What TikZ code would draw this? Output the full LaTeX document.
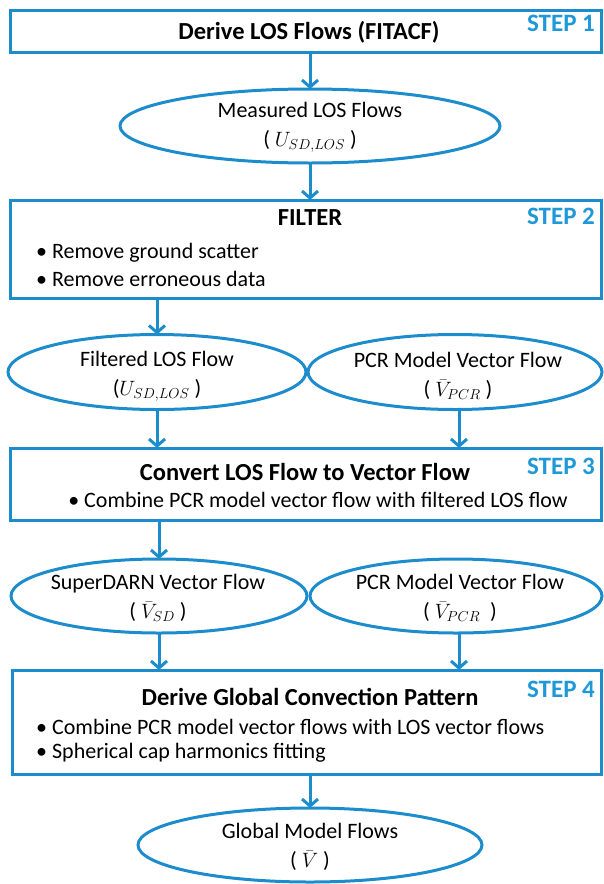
\documentclass[tikz,border=0pt]{standalone}
\usepackage{fontspec}
\setmainfont{Carlito}
\usetikzlibrary{shapes.geometric,arrows.meta}
\definecolor{lineblue}{RGB}{28,140,204}
\definecolor{stepblue}{RGB}{30,152,215}
\begin{document}
\begin{tikzpicture}[x=1pt,y=-1pt,
  box/.style={draw=lineblue,line width=3pt,rectangle,inner sep=0pt,outer sep=0pt,anchor=north west},
  ell/.style={draw=lineblue,line width=3pt,ellipse,inner sep=0pt,outer sep=0pt},
  arr/.style={draw=lineblue,line width=3pt,-{Straight Barb[length=7pt,width=16pt]}},
  ttl/.style={inner sep=0pt,font=\fontsize{24.5}{28}\selectfont\bfseries},
  body/.style={inner sep=0pt,font=\fontsize{22}{27}\selectfont},
  etxt/.style={inner sep=0pt,align=center,font=\fontsize{22}{29}\selectfont},
  bul/.style={body,anchor=west},
  steplbl/.style={inner sep=0pt,text=stepblue,font=\fontsize{25}{28}\selectfont\bfseries}]
\useasboundingbox (0,0) rectangle (603,884);

% Step 1
\node[box,minimum width=591pt,minimum height=42pt] (b1) at (10,10) {};
\node[ttl] (t1) at (309,32) {Derive LOS Flows (FITACF)};
\node[steplbl] (s1) at (561,23) {STEP 1};

\node[ell,minimum width=380pt,minimum height=74pt] (e1) at (310,126) {};
\node[etxt] (e1t) at (310,127) {Measured LOS Flows\\( $U_{SD,LOS}$ )};

% Step 2
\node[box,minimum width=591pt,minimum height=98pt] (b2) at (10,200) {};
\node[ttl] (t2) at (310,218) {FILTER};
\node[steplbl] (s2) at (561,216) {STEP 2};
\node[bul] (b2a) at (36,253) {\textbullet\ Remove ground scatter};
\node[bul] (b2b) at (36,279) {\textbullet\ Remove erroneous data};

\node[ell,minimum width=298pt,minimum height=75pt] (e2l) at (157,372) {};
\node[ell,minimum width=294pt,minimum height=75pt] (e2r) at (455,372) {};
\node[etxt] (e2lt) at (157,376) {Filtered LOS Flow\\($U_{SD,LOS}$ )};
\node[etxt] (e2rt) at (458,376) {PCR Model Vector Flow\\( $\bar{V}_{PCR}$ )};

% Step 3
\node[box,minimum width=591pt,minimum height=72pt] (b3) at (10,448) {};
\node[ttl] (t3) at (305,472) {Convert LOS Flow to Vector Flow};
\node[steplbl] (s3) at (561,466) {STEP 3};
\node[body] (b3a) at (318,500) {\textbullet\ Combine PCR model vector flow with filtered LOS flow};

\node[ell,minimum width=296pt,minimum height=74pt] (e3l) at (159,596) {};
\node[ell,minimum width=292pt,minimum height=74pt] (e3r) at (456,596) {};
\node[etxt] (e3lt) at (158,598) {SuperDARN Vector Flow\\( $\bar{V}_{SD}$ )};
\node[etxt] (e3rt) at (460,598) {PCR Model Vector Flow\\( $\bar{V}_{PCR}$\ \ )};

% Step 4
\node[box,minimum width=589pt,minimum height=104pt] (b4) at (12,670) {};
\node[ttl] (t4) at (310,697) {Derive Global Convection Pattern};
\node[steplbl] (s4) at (561,689) {STEP 4};
\node[bul] (b4a) at (36,727) {\textbullet\ Combine PCR model vector flows with LOS vector flows};
\node[bul] (b4b) at (36,753) {\textbullet\ Spherical cap harmonics fitting};

\node[ell,minimum width=344pt,minimum height=74pt] (e4) at (310,845) {};
\node[etxt] (e4t) at (310,847) {Global Model Flows\\( $\bar{V}$ )};

% Arrows
\draw[arr] (e1.north |- b1.south) -- (e1.north);
\draw[arr] (e1.south) -- (e1.south |- b2.north);
\draw[arr] (e2l.north |- b2.south) -- (e2l.north);
\draw[arr] (e2l.south) -- (e2l.south |- b3.north);
\coordinate (r2) at (459,409.5);
\draw[arr] (r2) -- (r2 |- b3.north);
\draw[arr] (e3l.north |- b3.south) -- (e3l.north);
\draw[arr] (e3l.south) -- (e3l.south |- b4.north);
\coordinate (r3) at (459,633);
\draw[arr] (r3) -- (r3 |- b4.north);
\draw[arr] (e4.north |- b4.south) -- (e4.north);
\end{tikzpicture}
\end{document}
